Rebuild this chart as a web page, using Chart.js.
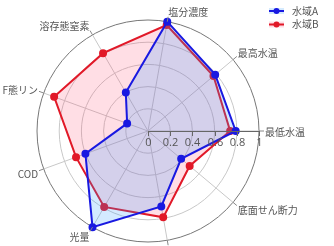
<!DOCTYPE html>
<html>
<head>
<meta charset="utf-8">
<script src="https://cdn.jsdelivr.net/npm/chart.js@4"></script>
<style>
    html, body { margin: 0; padding: 0; background: #fff; }
    #wrap { width: 334px; height: 246px; }
</style>
</head>
<body>
<div id="wrap"><canvas id="chart" width="334" height="246"></canvas></div>
<script>
// Categories clockwise, starting at the top-ish axis
const labels = ['塩分濃度', '最高水温', '最低水温', '底面せん断力', '水深', '光量', 'COD', 'F態リン', '溶存態窒素'];
const seriesNames = ['水域A', '水域B'];
const valuesA = [1.0, 0.79, 0.79, 0.39, 0.69, 1.0, 0.6, 0.2, 0.4];
const valuesB = [0.97, 0.77, 0.74, 0.49, 0.79, 0.79, 0.69, 0.9, 0.81];
const tickValues = [0, 0.2, 0.4, 0.6, 0.8, 1];
const tickLabels = ['0', '0.2', '0.4', '0.6', '0.8', '1'];

const labelFont = '10px "Noto Sans CJK JP", "Open Sans", sans-serif';
const tickFont = '11px "Open Sans", "Noto Sans", sans-serif';

// Draws the radial axis, angular ticks, category labels and legend
const polarDecor = {
    id: 'polarDecor',
    afterDatasetsDraw(chart) {
        const scale = chart.scales.r;
        const ctx = chart.ctx;
        const R = scale.drawingArea;
        const cx = scale.xCenter;
        const cy = scale.yCenter;

        ctx.save();

        // angular tick marks outside the circle
        ctx.strokeStyle = '#888';
        ctx.lineWidth = 1;
        labels.forEach((l, i) => {
            const a = scale.getPointPosition(i, R);
            const b = scale.getPointPosition(i, R + 5);
            ctx.beginPath();
            ctx.moveTo(a.x, a.y);
            ctx.lineTo(b.x, b.y);
            ctx.stroke();
        });

        // radial axis along the east direction
        ctx.strokeStyle = '#666';
        ctx.beginPath();
        ctx.moveTo(cx, cy + 0.5);
        ctx.lineTo(cx + R, cy + 0.5);
        ctx.stroke();

        ctx.fillStyle = '#555';
        ctx.font = tickFont;
        ctx.textAlign = 'center';
        ctx.textBaseline = 'top';
        tickValues.forEach((v, i) => {
            const x = Math.round(cx + scale.getDistanceFromCenterForValue(v)) + 0.5;
            ctx.beginPath();
            ctx.moveTo(x, cy);
            ctx.lineTo(x, cy + 5);
            ctx.stroke();
            ctx.fillText(tickLabels[i], x, cy + 6);
        });

        // category labels
        ctx.font = labelFont;
        ctx.fillStyle = '#555';
        ctx.textBaseline = 'middle';
        labels.forEach((l, i) => {
            const ang = scale.getIndexAngle(i) - Math.PI / 2;
            const c = Math.cos(ang);
            const s = Math.sin(ang);
            const p = scale.getPointPosition(i, R + 6);
            ctx.textAlign = Math.abs(c) < 0.1 ? 'center' : (c > 0 ? 'left' : 'right');
            ctx.fillText(l, p.x, p.y + s * 5 + 1);
        });

        // legend, top right
        chart.data.datasets.forEach((ds, i) => {
            const y = 11 + i * 13.5;
            ctx.fillStyle = ds.backgroundColor;
            ctx.fillRect(269, y - 3, 15, 6);
            ctx.strokeStyle = ds.borderColor;
            ctx.lineWidth = 2;
            ctx.beginPath();
            ctx.moveTo(269, y);
            ctx.lineTo(284, y);
            ctx.stroke();
            ctx.fillStyle = ds.borderColor;
            ctx.beginPath();
            ctx.arc(276.5, y, 3, 0, Math.PI * 2);
            ctx.fill();
            ctx.fillStyle = '#555';
            ctx.font = labelFont;
            ctx.textAlign = 'left';
            ctx.textBaseline = 'middle';
            ctx.fillText(ds.label, 292, y);
        });

        ctx.restore();
    }
};

new Chart(document.getElementById('chart').getContext('2d'), {
    type: 'radar',
    data: {
        labels: labels,
        datasets: [{
            label: seriesNames[0],
            data: valuesA,
            borderColor: 'rgb(25,25,225)',
            backgroundColor: 'rgba(40,150,255,0.2)',
            pointBackgroundColor: 'rgb(25,25,225)',
            pointBorderColor: 'rgb(25,25,225)',
            pointRadius: 3,
            borderWidth: 2,
            fill: true
        }, {
            label: seriesNames[1],
            data: valuesB,
            borderColor: 'rgb(225,25,40)',
            backgroundColor: 'rgba(255,70,110,0.18)',
            pointBackgroundColor: 'rgb(225,25,40)',
            pointBorderColor: 'rgb(225,25,40)',
            pointRadius: 3,
            borderWidth: 2,
            fill: true
        }]
    },
    options: {
        responsive: false,
        animation: false,
        layout: { padding: { top: 20, bottom: 4, left: 0, right: 38 } },
        elements: { line: { tension: 0 } },
        plugins: {
            legend: { display: false },
            tooltip: { enabled: false }
        },
        scales: {
            r: {
                min: 0,
                max: 1,
                startAngle: 10,
                ticks: { display: false, stepSize: 0.2 },
                pointLabels: { display: false },
                grid: {
                    circular: true,
                    color: c => (c.tick && c.tick.value === 1) ? '#777' : '#c8c8c8'
                },
                angleLines: { color: '#c8c8c8' }
            }
        }
    },
    plugins: [polarDecor]
});
</script>
</body>
</html>
